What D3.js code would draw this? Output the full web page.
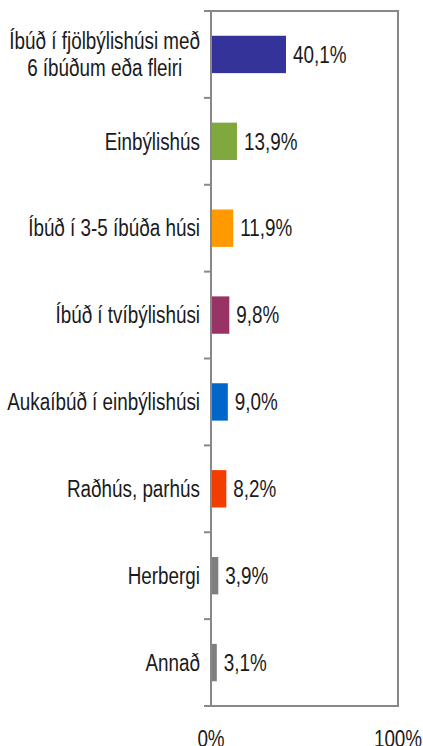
<!DOCTYPE html>
<html>
<head>
<meta charset="utf-8">
<script src="https://cdn.jsdelivr.net/npm/d3@7"></script>
<style>
  body { margin: 0; background: #fff; }
  text { font-family: "Liberation Sans", Arial, sans-serif; fill: #1a1a1a; }
</style>
</head>
<body>
<svg id="chart"></svg>
<script>
// categories (line breaks as in the original labels)
const categories = [
  ["Íbúð í fjölbýlishúsi með", "6 íbúðum eða fleiri"],
  ["Einbýlishús"],
  ["Íbúð í 3-5 íbúða húsi"],
  ["Íbúð í tvíbýlishúsi"],
  ["Aukaíbúð í einbýlishúsi"],
  ["Raðhús, parhús"],
  ["Herbergi"],
  ["Annað"]
];
const values = [40.1, 13.9, 11.9, 9.8, 9.0, 8.2, 3.9, 3.1];
const colors = ["#333399", "#7fa83f", "#ff9900", "#993366", "#0066cc", "#f23c00", "#7f7f7f", "#7f7f7f"];
const xTicks = [0, 100];

const W = 423, H = 746;
const margin = {top: 11, right: 25, bottom: 40, left: 211};
const width = W - margin.left - margin.right;
const height = H - margin.top - margin.bottom;
const fs = 23;        // font size
const narrow = 0.82;  // horizontal squeeze, narrow look

const svg = d3.select("#chart").attr("width", W).attr("height", H);
const g = svg.append("g").attr("transform", `translate(${margin.left},${margin.top})`);

const x = d3.scaleLinear().domain([0, 100]).range([0, width]);
const idx = d3.range(categories.length);
const y = d3.scaleBand().domain(idx).range([0, height]).paddingInner(0.57).paddingOuter(0.285);

// helper: narrow text placed at (px, py)
function ntext(parent, px, py) {
  return parent.append("g").attr("transform", `translate(${px},${py}) scale(${narrow},1)`)
    .append("text").attr("font-size", fs);
}

// plot frame
g.append("rect")
  .attr("x", 0).attr("y", 0)
  .attr("width", width).attr("height", height)
  .attr("fill", "none").attr("stroke", "#888").attr("stroke-width", 2);

// category boundary ticks on left axis
const step = height / categories.length;
g.selectAll(".ytick").data(d3.range(categories.length + 1)).join("line")
  .attr("class", "ytick")
  .attr("x1", -7).attr("x2", 0)
  .attr("y1", d => d * step).attr("y2", d => d * step)
  .attr("stroke", "#888").attr("stroke-width", 2);

// bars
g.selectAll(".bar").data(values).join("rect")
  .attr("class", "bar")
  .attr("x", 1)
  .attr("y", (d, i) => y(i))
  .attr("width", d => x(d) - 1)
  .attr("height", y.bandwidth())
  .attr("fill", (d, i) => colors[i]);

// left axis line on top of bars
g.append("line")
  .attr("x1", 0).attr("x2", 0).attr("y1", 0).attr("y2", height)
  .attr("stroke", "#888").attr("stroke-width", 2);

// value labels
values.forEach((v, i) => {
  ntext(g, x(v) + 7, y(i) + y.bandwidth() / 2)
    .attr("dy", "0.36em")
    .text(v.toFixed(1).replace(".", ",") + "%");
});

// category labels
const labelRight = -11;
categories.forEach((lines, i) => {
  const cy = y(i) + y.bandwidth() / 2;
  const lh = 27;
  const t = ntext(g, labelRight, cy);
  lines.forEach((ln, j) => {
    t.append("tspan").text(ln)
      .attr("y", (j - (lines.length - 1) / 2) * lh)
      .attr("dy", "0.36em");
  });
  const spans = t.selectAll("tspan").nodes();
  const maxW = d3.max(spans, n => n.getComputedTextLength());
  spans.forEach(n => {
    d3.select(n).attr("text-anchor", "middle").attr("x", -maxW / 2);
  });
});

// bottom tick labels (cut by the lower edge, as in the original)
xTicks.forEach(d => {
  ntext(g, x(d), height + 41)
    .attr("text-anchor", "middle")
    .text(d + "%");
});
</script>
</body>
</html>
